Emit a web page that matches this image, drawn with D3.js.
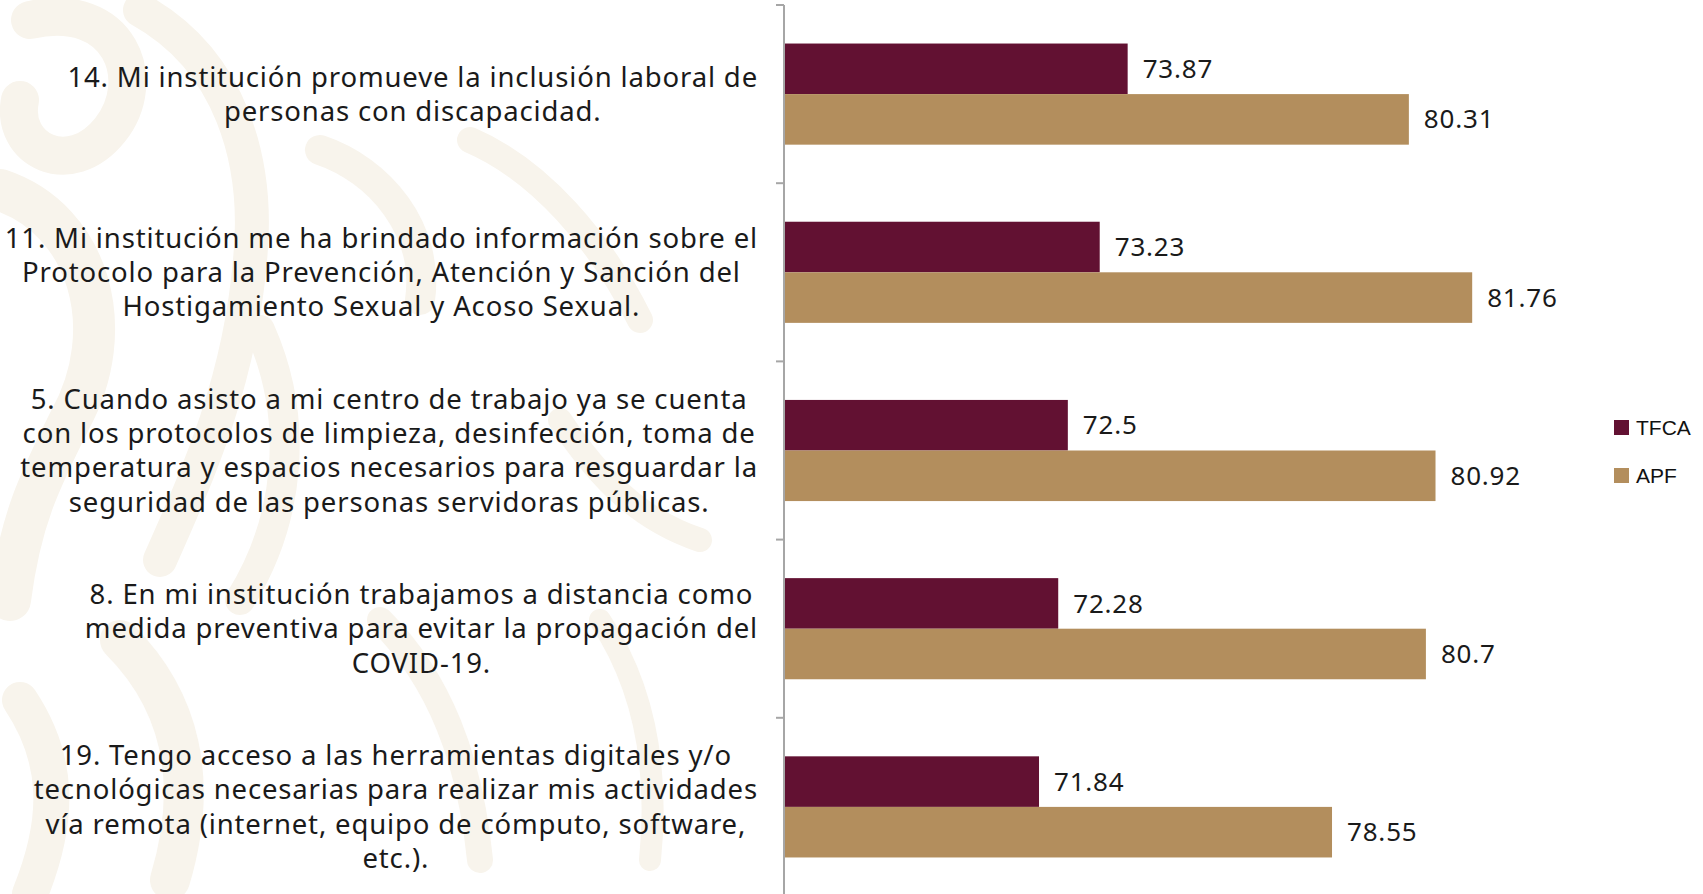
<!DOCTYPE html>
<html>
<head>
<meta charset="utf-8">
<script src="https://cdn.jsdelivr.net/npm/d3@7"></script>
<style>
  html, body { margin: 0; padding: 0; background: #fff; }
  svg { display: block; }
  .cat { font-family: "Noto Sans", sans-serif; font-size: 27.5px; fill: #1a1a1a; letter-spacing: 0.85px; }
  .val { font-family: "Noto Sans", sans-serif; font-size: 26px; fill: #1a1a1a; letter-spacing: 0.8px; }
  .leg { font-family: "Liberation Sans", "Noto Sans", sans-serif; font-size: 21px; fill: #111; }
</style>
</head>
<body>
<div id="chart"></div>
<script>

// questions, top to bottom
var categories = [
  "14. Mi institución promueve la inclusión laboral de|personas con discapacidad.",
  "11. Mi institución me ha brindado información sobre el|Protocolo para la Prevención, Atención y Sanción del|Hostigamiento Sexual y Acoso Sexual.",
  "5. Cuando asisto a mi centro de trabajo ya se cuenta|con los protocolos de limpieza, desinfección, toma de|temperatura y espacios necesarios para resguardar la|seguridad de las personas servidoras públicas.",
  "8. En mi institución trabajamos a distancia como|medida preventiva para evitar la propagación del|COVID-19.",
  "19. Tengo acceso a las herramientas digitales y/o|tecnológicas necesarias para realizar mis actividades|vía remota (internet, equipo de cómputo, software,|etc.)."
]

var series = ["TFCA", "APF"]

var tfcaValues = [73.87, 73.23, 72.5, 72.28, 71.84]

var apfValues = [80.31, 81.76, 80.92, 80.7, 78.55]

var colors = ["#621132", "#B38E5D"]

var width = 1703
var height = 894

var svg = d3.select("#chart").append("svg")
    .attr("width", width)
    .attr("height", height)

// faint background ornament
var deco = svg.append("g")
    .attr("fill", "none")
    .attr("stroke", "#f8f4ec")
    .attr("stroke-linecap", "round")

var decoPaths = [
  ["M 30 20 C 120 0, 150 80, 110 130 C 70 180, 10 150, 20 100", 38],
  ["M 0 190 C 90 220, 120 330, 70 420 C 40 480, 20 520, 10 600", 42],
  ["M 140 10 C 230 60, 260 160, 250 260 C 240 380, 200 470, 160 560", 34],
  ["M 320 150 C 380 170, 430 230, 420 300", 30],
  ["M 260 330 C 300 420, 290 520, 240 600", 30],
  ["M 470 140 C 540 170, 600 240, 640 320", 26],
  ["M 120 640 C 180 700, 200 780, 170 880", 40],
  ["M 560 420 C 600 480, 640 520, 700 540", 24],
  ["M 20 700 C 60 760, 60 820, 30 894", 36],
  ["M 380 620 C 440 680, 470 760, 480 860", 26],
  ["M 600 620 C 640 680, 660 760, 650 860", 22]
]

decoPaths.forEach(function(d) {
  deco.append("path").attr("d", d[0]).attr("stroke-width", d[1])
})

var x = d3.scaleLinear()
    .domain([66, 84])
    .range([784, 1570])

var y = d3.scaleBand()
    .domain(categories)
    .range([5, 896])

var ySub = d3.scaleBand()
    .domain(series)
    .range([0, y.bandwidth()])
    .paddingOuter(0.762)

var data = categories.map(function(c, i) {
  return { cat: c, values: [
    { key: "TFCA", value: tfcaValues[i] },
    { key: "APF", value: apfValues[i] }
  ] }
})

var color = d3.scaleOrdinal().domain(series).range(colors)

// y axis line with ticks between groups
var axis = svg.append("g")
    .attr("stroke", "#a6a6a6")
    .attr("stroke-width", 2)

axis.append("line")
    .attr("x1", x.range()[0]).attr("x2", x.range()[0])
    .attr("y1", y.range()[0]).attr("y2", height)

categories.forEach(function(c) {
  axis.append("line")
      .attr("x1", x.range()[0] - 8).attr("x2", x.range()[0])
      .attr("y1", y(c)).attr("y2", y(c))
})

var groups = svg.selectAll(".grp")
    .data(data)
    .enter()
    .append("g")
    .attr("class", "grp")
    .attr("transform", d => `translate(0,${y(d.cat)})`)

groups.selectAll("rect")
    .data(d => d.values)
    .enter()
    .append("rect")
    .attr("x", x.range()[0] + 1)
    .attr("y", d => ySub(d.key))
    .attr("width", d => x(d.value) - x.range()[0] - 1)
    .attr("height", ySub.bandwidth())
    .attr("fill", d => color(d.key))

groups.selectAll(".val")
    .data(d => d.values)
    .enter()
    .append("text")
    .attr("class", "val")
    .attr("x", d => x(d.value) + 15)
    .attr("y", d => ySub(d.key) + ySub.bandwidth() / 2)
    .attr("dy", "0.35em")
    .text(d => d.value)

// category labels: block right edge at 758, lines centred in block
var rightEdge = 758
var lineHeight = 34.3

groups.each(function(d) {
  var g = d3.select(this)
  var lines = d.cat.split("|")
  var block = g.append("g")
  var texts = lines.map(function(l, i) {
    return block.append("text")
        .attr("class", "cat")
        .attr("text-anchor", "middle")
        .attr("y", y.bandwidth() / 2 + (i - (lines.length - 1) / 2) * lineHeight)
        .attr("dy", "0.35em")
        .text(l)
  })
  var maxW = d3.max(texts, t => t.node().getComputedTextLength())
  texts.forEach(t => t.attr("x", rightEdge - maxW / 2))
})

// legend
var legend = svg.append("g")
    .attr("transform", "translate(1614,420)")

series.forEach(function(s, i) {
  legend.append("rect")
      .attr("x", 0)
      .attr("y", i * 48)
      .attr("width", 15)
      .attr("height", 15)
      .attr("fill", color(s))
  legend.append("text")
      .attr("class", "leg")
      .attr("x", 22)
      .attr("y", i * 48 + 7.5)
      .attr("dy", "0.36em")
      .text(s)
})

</script>
</body>
</html>
